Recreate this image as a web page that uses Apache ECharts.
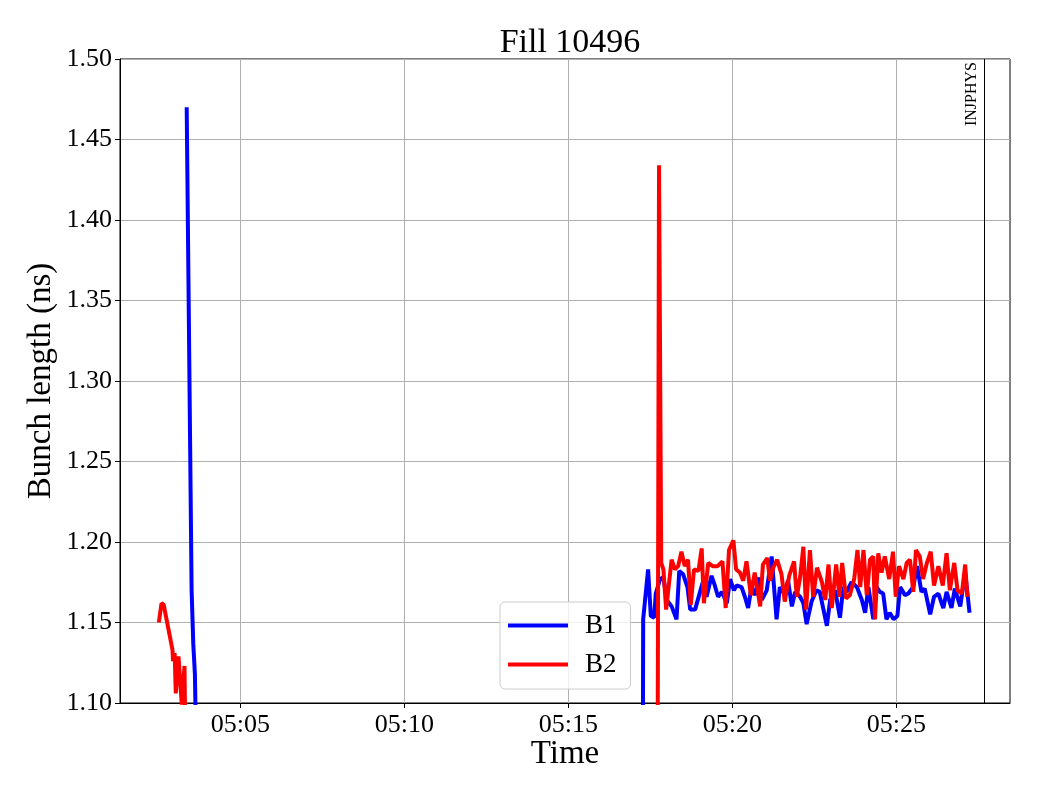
<!DOCTYPE html>
<html>
<head>
<meta charset="utf-8">
<script src="https://cdn.jsdelivr.net/npm/echarts@6/dist/echarts.min.js"></script>
<style>html,body{margin:0;padding:0;background:#fff}#chart{width:1040px;height:800px}</style>
</head>
<body>
<div id="chart"></div>
<script>
const chartTitle = "Fill 10496";
const dayStr = "2025-01-01";
const xMinTime = "05:01:20";
const xMaxTime = "05:28:28";
const xTickTimes = ["05:05:00", "05:10:00", "05:15:00", "05:20:00", "05:25:00"];
const yTicks = [1.10, 1.15, 1.20, 1.25, 1.30, 1.35, 1.40, 1.45, 1.50];
const modeChangeTime = "05:27:40";
const modeChangeLabel = "INJPHYS";

const b1Times = ["05:03:22","05:03:31","05:03:34","05:03:37","05:03:40","05:03:43",
"05:17:16","05:17:17","05:17:26","05:17:31","05:17:37","05:17:40","05:17:48","05:17:54","05:18:00","05:18:09",
"05:18:18","05:18:23","05:18:30","05:18:38","05:18:43","05:18:52","05:19:01","05:19:07","05:19:13","05:19:22",
"05:19:28","05:19:34","05:19:41","05:19:50","05:19:56","05:20:03","05:20:08","05:20:17","05:20:23","05:20:29",
"05:20:35","05:20:42","05:20:48","05:20:54","05:21:03","05:21:12","05:21:21","05:21:27","05:21:35","05:21:42",
"05:21:49","05:21:55","05:22:04","05:22:10","05:22:16","05:22:25","05:22:34","05:22:40","05:22:53","05:22:59",
"05:23:08","05:23:17","05:23:23","05:23:29","05:23:38","05:23:48","05:23:57","05:24:03","05:24:09","05:24:18",
"05:24:24","05:24:30","05:24:36","05:24:42","05:24:48","05:24:55","05:25:02","05:25:07","05:25:16","05:25:22",
"05:25:31","05:25:38","05:25:46","05:25:52","05:26:02","05:26:09","05:26:17","05:26:26","05:26:32","05:26:41",
"05:26:47","05:26:57","05:27:06","05:27:14"];
const b1Values = [1.470,1.170,1.137,1.118,1.117,1.000,
1.000,1.152,1.183,1.154,1.153,1.168,1.177,1.178,1.164,1.160,
1.152,1.182,1.180,1.172,1.158,1.158,1.169,1.176,1.166,1.179,
1.173,1.166,1.169,1.162,1.177,1.170,1.173,1.172,1.166,1.159,
1.172,1.167,1.178,1.164,1.170,1.191,1.152,1.172,1.168,1.176,
1.160,1.169,1.166,1.162,1.149,1.163,1.170,1.169,1.148,1.164,
1.170,1.153,1.172,1.169,1.175,1.172,1.164,1.156,1.172,1.152,
1.172,1.169,1.168,1.152,1.156,1.152,1.154,1.172,1.167,1.168,
1.172,1.185,1.169,1.171,1.155,1.166,1.168,1.159,1.169,1.159,
1.171,1.160,1.181,1.156];

const b2Times = ["05:02:31","05:02:36","05:02:40","05:02:56","05:02:57","05:03:00","05:03:02","05:03:07","05:03:13","05:03:18","05:03:22",
"05:17:43","05:17:46","05:17:50","05:17:54","05:17:59","05:18:09","05:18:15","05:18:21","05:18:27","05:18:33",
"05:18:39","05:18:44","05:18:50","05:18:58","05:19:04","05:19:08","05:19:16","05:19:24","05:19:33","05:19:42",
"05:19:48","05:19:54","05:20:02","05:20:07","05:20:14","05:20:20","05:20:26","05:20:34","05:20:41","05:20:51",
"05:20:56","05:21:04","05:21:09","05:21:15","05:21:22","05:21:30","05:21:36","05:21:44","05:21:53","05:21:58",
"05:22:04","05:22:10","05:22:15","05:22:22","05:22:28","05:22:35","05:22:44","05:22:50","05:22:56","05:23:02",
"05:23:10","05:23:16","05:23:21","05:23:28","05:23:35","05:23:43","05:23:49","05:23:54","05:24:00","05:24:06",
"05:24:12","05:24:18","05:24:21","05:24:27","05:24:33","05:24:39","05:24:47","05:24:54","05:24:59","05:25:05",
"05:25:13","05:25:19","05:25:25","05:25:31","05:25:36","05:25:43","05:25:49","05:25:56","05:26:03","05:26:09",
"05:26:17","05:26:25","05:26:32","05:26:38","05:26:46","05:26:52","05:27:00","05:27:06","05:27:10"];
const b2Values = [1.150,1.162,1.161,1.133,1.126,1.131,1.106,1.129,1.099,1.123,1.000,
1.000,1.434,1.187,1.183,1.158,1.189,1.183,1.185,1.194,1.185,
1.189,1.161,1.183,1.182,1.196,1.162,1.187,1.185,1.185,1.188,
1.159,1.195,1.201,1.183,1.181,1.176,1.188,1.167,1.181,1.160,
1.186,1.190,1.176,1.184,1.189,1.180,1.163,1.179,1.188,1.166,
1.178,1.197,1.158,1.195,1.166,1.184,1.175,1.164,1.186,1.159,
1.186,1.166,1.187,1.165,1.167,1.177,1.195,1.172,1.195,1.167,
1.189,1.191,1.152,1.193,1.181,1.191,1.177,1.194,1.166,1.185,
1.177,1.187,1.189,1.169,1.195,1.191,1.177,1.187,1.194,1.173,
1.185,1.173,1.193,1.170,1.187,1.170,1.168,1.186,1.166];

function ts(t) { return Date.parse(dayStr + "T" + t + "Z"); }
function pad(n) { return (n < 10 ? "0" : "") + n; }
function pairs(times, vals) { return times.map((t, i) => [ts(t), vals[i]]); }
const xTickValues = xTickTimes.map(ts);

const FONT = "'Liberation Serif', 'DejaVu Serif', serif";
const chart = echarts.init(document.getElementById('chart'), null, {renderer: 'canvas'});
chart.setOption({
  animation: false,
  backgroundColor: '#ffffff',
  textStyle: {fontFamily: FONT, color: '#000'},
  title: {
    text: chartTitle, left: 565, top: 21, textAlign: 'center',
    textStyle: {fontFamily: FONT, fontSize: 34, fontWeight: 'normal', color: '#000'}
  },
  grid: {left: 120, right: 30, top: 59, bottom: 97, show: true, borderColor: '#000', borderWidth: 1, backgroundColor: 'transparent'},
  legend: {
    orient: 'vertical', left: 500, top: 602,
    data: ['B1', 'B2'],
    icon: 'rect', itemWidth: 60, itemHeight: 4, itemGap: 12,
    padding: [10, 14, 11, 8],
    backgroundColor: 'rgba(255,255,255,0.8)', borderColor: '#cccccc', borderWidth: 1, borderRadius: 5,
    textStyle: {fontFamily: FONT, fontSize: 27, color: '#000', padding: [0, 0, 0, 12]}
  },
  xAxis: {
    type: 'value', scale: true,
    min: ts(xMinTime), max: ts(xMaxTime),
    name: 'Time', nameLocation: 'middle', nameGap: 35, nameMoveOverlap: false,
    nameTextStyle: {fontFamily: FONT, fontSize: 33, color: '#000'},
    axisLine: {show: true, lineStyle: {color: '#000', width: 1}},
    axisTick: {show: true, inside: false, length: 5, lineStyle: {color: '#000'}, customValues: xTickValues},
    axisLabel: {
      fontFamily: FONT, fontSize: 26, color: '#000', margin: 9,
      customValues: xTickValues,
      formatter: function (v) { const d = new Date(v); return pad(d.getUTCHours()) + ':' + pad(d.getUTCMinutes()); }
    },
    splitLine: {show: true, lineStyle: {color: '#b0b0b0', width: 1}}
  },
  yAxis: {
    type: 'value', min: yTicks[0], max: yTicks[yTicks.length - 1], interval: 0.05,
    name: 'Bunch length (ns)', nameLocation: 'middle', nameGap: 62, nameMoveOverlap: false,
    nameTextStyle: {fontFamily: FONT, fontSize: 33, color: '#000'},
    axisLine: {show: true, lineStyle: {color: '#000', width: 1}},
    axisTick: {show: true, inside: false, length: 5, lineStyle: {color: '#000'}},
    axisLabel: {fontFamily: FONT, fontSize: 26, color: '#000', margin: 8, formatter: v => v.toFixed(2)},
    splitLine: {show: true, lineStyle: {color: '#b0b0b0', width: 1}}
  },
  series: [
    {
      name: 'B1', type: 'line', data: pairs(b1Times, b1Values),
      showSymbol: false, symbol: 'none', clip: true,
      lineStyle: {color: '#0000ff', width: 4}, itemStyle: {color: '#0000ff'},
      z: 2
    },
    {
      name: 'B2', type: 'line', data: pairs(b2Times, b2Values),
      showSymbol: false, symbol: 'none', clip: true,
      lineStyle: {color: '#ff0000', width: 4}, itemStyle: {color: '#ff0000'},
      z: 3,
      markLine: {
        silent: true, symbol: ['none', 'none'], animation: false,
        lineStyle: {color: '#000', width: 1, type: 'solid'},
        label: {
          show: true, position: 'insideEndTop', formatter: modeChangeLabel,
          fontFamily: FONT, fontSize: 16, color: '#000', distance: [3, 4]
        },
        data: [{xAxis: ts(modeChangeTime)}]
      }
    }
  ]
});
</script>
</body>
</html>
